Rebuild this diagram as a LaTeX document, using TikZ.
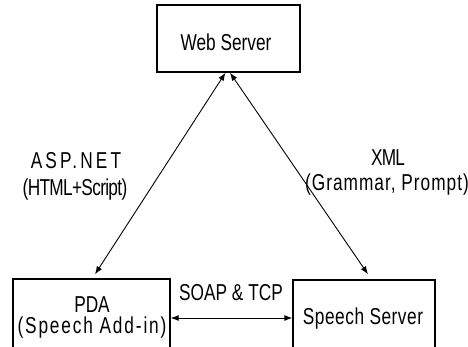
\documentclass[tikz,border=0pt]{standalone}
\usepackage{fontspec}
\setmainfont{Liberation Sans}
\usetikzlibrary{arrows.meta}
\newcommand{\nt}[2]{\scalebox{0.75}[1]{\addfontfeature{LetterSpace=#1}#2}}
\begin{document}
\begin{tikzpicture}[x=1pt,y=-1pt,
  box/.style={draw=black,line width=1.4pt,minimum width=#1,inner sep=0pt},
  txt/.style={anchor=base,inner sep=0pt,font=\fontsize{23}{25}\selectfont},
  link/.style={line width=0.9pt,{Latex[length=8pt,width=6pt]}-{Latex[length=8pt,width=6pt]}}]
\useasboundingbox (0,0) rectangle (468,346);
% boxes
\node[box=143pt,minimum height=67pt] (web) at (228.5,38.5) {};
\node[box=157pt,minimum height=69pt] (pda) at (91.5,313.5) {};
\node[box=142pt,minimum height=68pt] (speech) at (364,314) {};
% texts
\node[txt] (webt) at (226,50) {\nt{0}{Web Server}};
\node[txt] (pdat1) at (92,312) {\nt{0}{PDA}};
\node[txt] (pdat2) at (92,333) {\nt{10.8}{(Speech Add-in)}};
\node[txt] (spt) at (363,324) {\nt{3.2}{Speech Server}};
\node[txt] (soap) at (231,300) {\nt{0}{SOAP \& TCP}};
\node[txt] (asp1) at (76,168) {\nt{18}{ASP.NET}};
\node[txt] (asp2) at (75,195) {\nt{-3.9}{(HTML+Script)}};
\node[txt] (xml1) at (388,165) {\nt{-5}{XML}};
\node[txt] (xml2) at (387,190) {\nt{5.9}{(Grammar, Prompt)}};
% connectors
\draw[link] ([xshift=-3pt]web.south) -- ([xshift=3.5pt,yshift=4pt]pda.north);
\draw[link] ([xshift=1.5pt]web.south) -- ([xshift=4pt,yshift=5pt]speech.north);
\draw[link] ([yshift=-4.5pt]pda.east) -- ([yshift=-4pt]speech.west);
\end{tikzpicture}
\end{document}
